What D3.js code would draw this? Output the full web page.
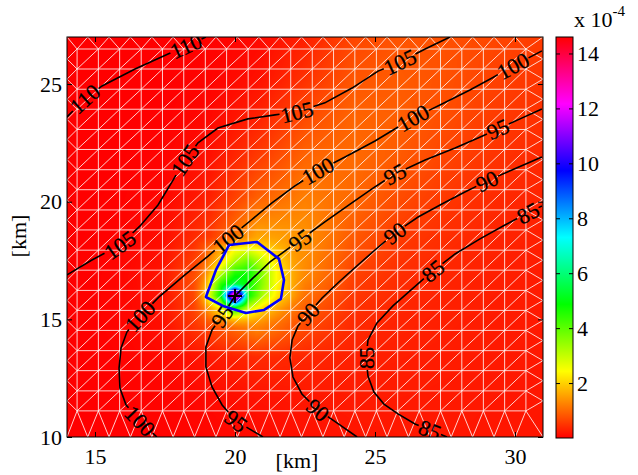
<!DOCTYPE html>
<html><head><meta charset="utf-8">
<script src="https://cdn.jsdelivr.net/npm/d3@7"></script>
<style>
body{margin:0;background:#fff}
svg text{font-family:"Liberation Serif","Times New Roman",serif;}
</style>
</head><body>
<svg id="c" width="638" height="475"></svg>
<script>
// ---------- data (km, values x 1e-4) ----------
const xDomain = [14, 31];
const yDomain = [10, 27];
const xTicks = [15, 20, 25, 30];
const yTicks = [10, 15, 20, 25];
const cbDomain = [0, 14.6];
const cbTicks = [2, 4, 6, 8, 10, 12, 14];

// background field (rows: ascending y)
const fieldX = [14, 15.7, 17.4, 19.1, 20.8, 22.5, 24.2, 25.9, 27.6, 29.3, 31];
const fieldY = [10, 11.7, 13.4, 15.1, 16.8, 18.5, 20.2, 21.9, 23.6, 25.3, 27];
const fieldV = [
  [0.00, 0.00, 0.02, 0.05, 0.10, 0.15, 0.20, 0.22, 0.22, 0.21, 0.20],
  [0.00, 0.01, 0.04, 0.09, 0.17, 0.22, 0.25, 0.25, 0.24, 0.22, 0.21],
  [0.00, 0.02, 0.07, 0.22, 0.40, 0.36, 0.30, 0.28, 0.26, 0.24, 0.22],
  [0.00, 0.03, 0.15, 0.80, 1.60, 0.80, 0.42, 0.33, 0.29, 0.26, 0.24],
  [0.00, 0.03, 0.20, 1.00, 2.20, 1.30, 0.62, 0.42, 0.34, 0.29, 0.26],
  [0.00, 0.02, 0.12, 0.55, 1.60, 1.40, 0.85, 0.55, 0.42, 0.34, 0.29],
  [0.00, 0.01, 0.06, 0.30, 0.90, 1.20, 1.00, 0.72, 0.52, 0.40, 0.33],
  [0.00, 0.00, 0.03, 0.15, 0.55, 0.95, 1.02, 0.85, 0.63, 0.48, 0.38],
  [0.00, 0.00, 0.01, 0.07, 0.30, 0.70, 0.95, 0.90, 0.72, 0.56, 0.45],
  [0.00, 0.00, 0.00, 0.03, 0.15, 0.45, 0.80, 0.86, 0.76, 0.62, 0.50],
  [0.00, 0.00, 0.00, 0.02, 0.08, 0.30, 0.65, 0.80, 0.76, 0.66, 0.56]
];
// fine patch around the source
const peakX = [18.5, 19, 19.5, 20, 20.5, 21, 21.5, 22, 22.5];
const peakY = [14.5, 15, 15.5, 16, 16.5, 17, 17.5, 18, 18.5];
const peakV = [
  [0.4, 0.6, 0.8, 1.0, 1.0, 0.9, 0.8, 0.7, 0.6],
  [0.6, 0.9, 1.4, 1.9, 1.8, 1.5, 1.2, 0.95, 0.75],
  [0.9, 1.4, 2.5, 5.0, 3.0, 2.1, 1.6, 1.2, 0.9],
  [1.2, 2.3, 5.0, 14.6, 4.8, 3.2, 2.2, 1.6, 1.2],
  [1.0, 1.8, 4.5, 5.5, 4.8, 3.5, 2.4, 1.7, 1.3],
  [0.8, 1.4, 3.0, 4.5, 4.8, 3.5, 2.4, 1.7, 1.3],
  [0.7, 1.1, 2.0, 3.2, 3.8, 2.9, 2.1, 1.6, 1.3],
  [0.6, 0.9, 1.6, 2.4, 2.6, 2.2, 1.8, 1.5, 1.25],
  [0.5, 0.75, 1.2, 1.7, 1.85, 1.75, 1.6, 1.4, 1.2]
];

// black contour lines (km) and label vertex indices
const levels = [110, 105, 100, 95, 90, 85];
const line110 = [[14,23.6],[14.64,24.37],[15.25,24.92],[16.43,25.64],[17.61,26.28],[18.25,26.62],[18.96,27.0]];
const line105 = [[14,16.89],[14.89,17.52],[15.89,18.16],[16.61,18.97],[17.25,19.86],[17.75,20.84],[18.21,21.77],[18.68,22.5],[19.39,23.13],[20.46,23.52],[21.43,23.69],[22.21,23.81],[23.21,24.2],[24.18,24.83],[25.11,25.55],[25.89,25.94],[26.79,26.49],[27.68,27.0]];
const line100 = [[17.21,10.0],[16.61,10.68],[16.11,11.36],[15.89,12.08],[15.86,12.93],[15.93,13.78],[16.14,14.46],[16.61,15.14],[17.32,15.99],[18.21,16.89],[19.04,17.69],[19.75,18.42],[20.54,19.18],[21.32,19.95],[22.14,20.67],[22.96,21.31],[23.93,21.9],[25.0,22.58],[26.36,23.56],[27.32,24.11],[28.39,24.75],[29.18,25.26],[29.93,25.77],[30.96,26.41]];
const line95 = [[21.0,10.0],[20.04,10.68],[19.54,11.36],[19.18,12.13],[18.96,12.98],[18.96,13.83],[19.18,14.55],[19.54,15.14],[20.0,15.99],[20.61,16.72],[21.25,17.44],[22.32,18.37],[23.21,19.14],[24.11,19.9],[24.93,20.58],[25.71,21.18],[26.79,21.77],[27.86,22.28],[28.68,22.71],[29.39,23.09],[30.18,23.52],[30.96,23.94]];
const line90 = [[24.36,10.0],[23.64,10.6],[22.96,11.15],[22.39,11.83],[22.07,12.55],[21.96,13.36],[22.04,14.12],[22.25,14.72],[22.61,15.23],[23.11,15.91],[23.75,16.63],[24.39,17.31],[25.04,17.99],[25.71,18.67],[26.54,19.35],[27.39,19.9],[28.21,20.41],[29.0,20.88],[29.89,21.35],[30.96,21.9]];
const line85 = [[27.57,10.0],[26.96,10.3],[26.43,10.55],[25.82,10.98],[25.32,11.4],[24.96,11.91],[24.75,12.59],[24.68,13.36],[24.75,14.12],[25.07,14.85],[25.64,15.57],[26.36,16.33],[27.07,17.06],[27.86,17.78],[28.75,18.42],[29.64,19.01],[30.46,19.52],[30.96,19.82]];
const contourLines = [line110, line105, line100, line95, line90, line85];
const labelAt = [[1,5],[2,6,11,15],[1,7,11,15,18,22],[1,7,11,15,19],[2,8,13,17],[1,7,12,16]];

// blue iso-line of the field and source point
const blueLine = [[19.79,18.16],[20.79,18.29],[21.57,17.57],[21.75,16.67],[21.64,15.87],[21.04,15.4],[20.39,15.27],[19.57,15.57],[18.96,15.95],[19.32,17.1]];
const source = [20.0, 15.99];

// triangular mesh grid lines (km)
const meshX = [14.36,15.12,15.88,16.65,17.41,18.17,18.94,19.70,20.47,21.23,21.99,22.76,23.52,24.28,25.05,25.81,26.58,27.34,28.10,28.87,29.63,30.39];
const meshY = [11.11,11.96,12.82,13.67,14.53,15.38,16.23,17.09,17.94,18.80,19.65,20.51,21.36,22.22,23.07,23.93,24.78,25.64,26.49];

// ---------- drawing ----------
const svg = d3.select("#c");
const x = d3.scaleLinear().domain(xDomain).range([67, 543]);
const y = d3.scaleLinear().domain(yDomain).range([437, 37]);
const hsvMap = t => d3.hsl(t * 360, 1, 0.5);
const color = d3.scaleSequential(hsvMap).domain(cbDomain).clamp(true);

function bilinear(gx, gy, gv, px, py) {
  let i = Math.max(0, Math.min(gx.length - 2, d3.bisectRight(gx, px) - 1));
  let j = Math.max(0, Math.min(gy.length - 2, d3.bisectRight(gy, py) - 1));
  let tx = Math.max(0, Math.min(1, (px - gx[i]) / (gx[i + 1] - gx[i])));
  let ty = Math.max(0, Math.min(1, (py - gy[j]) / (gy[j + 1] - gy[j])));
  return gv[j][i] * (1 - tx) * (1 - ty) + gv[j][i + 1] * tx * (1 - ty) +
         gv[j + 1][i] * (1 - tx) * ty + gv[j + 1][i + 1] * tx * ty;
}
function fieldAt(px, py) {
  const bg = bilinear(fieldX, fieldY, fieldV, px, py);
  const x0 = peakX[0], x1 = peakX[peakX.length - 1], y0 = peakY[0], y1 = peakY[peakY.length - 1];
  if (px < x0 || px > x1 || py < y0 || py > y1) return bg;
  const dEdge = Math.min(px - x0, x1 - px, py - y0, y1 - py);
  const w = Math.min(1, dEdge / 0.5);
  const pk = bilinear(peakX, peakY, peakV, px, py);
  return bg * (1 - w) + pk * w;
}

const LUT = d3.range(1024).map(k => d3.rgb(color(cbDomain[0] + (cbDomain[1] - cbDomain[0]) * k / 1023)));

const px0 = x.range()[0], px1 = x.range()[1], py0 = y.range()[1], py1 = y.range()[0];
const cw = Math.round(px1 - px0), ch = Math.round(py1 - py0);
const cv = document.createElement("canvas");
cv.width = cw; cv.height = ch;
const ctx = cv.getContext("2d");
const img = ctx.createImageData(cw, ch);
for (let j = 0; j < ch; j++) {
  const yk = y.invert(py0 + j + 0.5);
  for (let i = 0; i < cw; i++) {
    const xk = x.invert(px0 + i + 0.5);
    const v = fieldAt(xk, yk);
    let k = Math.round((v - cbDomain[0]) / (cbDomain[1] - cbDomain[0]) * 1023);
    k = Math.max(0, Math.min(1023, k));
    const c = LUT[k], o = (j * cw + i) * 4;
    img.data[o] = c.r; img.data[o + 1] = c.g; img.data[o + 2] = c.b; img.data[o + 3] = 255;
  }
}
ctx.putImageData(img, 0, 0);

const defs = svg.append("defs");
defs.append("clipPath").attr("id", "clip").append("rect")
  .attr("x", px0).attr("y", py0).attr("width", px1 - px0).attr("height", py1 - py0);

svg.append("image").attr("x", px0).attr("y", py0).attr("width", cw).attr("height", ch)
  .attr("preserveAspectRatio", "none").attr("href", cv.toDataURL());

// mesh
const gMesh = svg.append("g").attr("clip-path", "url(#clip)")
  .attr("stroke", "#fff").attr("stroke-opacity", 0.8).attr("stroke-width", 1).attr("fill", "none");
const segs = [];
const nx = meshX.length, ny = meshY.length;
meshX.forEach(mx => segs.push([[mx, meshY[0]], [mx, meshY[ny - 1]]]));
meshY.forEach(my => segs.push([[meshX[0], my], [meshX[nx - 1], my]]));
for (let i = 0; i < nx - 1; i++) for (let j = 0; j < ny - 1; j++)
  segs.push([[meshX[i], meshY[j]], [meshX[i + 1], meshY[j + 1]]]);
const ex0 = xDomain[0], ex1 = xDomain[1], ey0 = yDomain[0], ey1 = yDomain[1];
for (let j = 0; j < ny - 1; j++) {
  const m = (meshY[j] + meshY[j + 1]) / 2;
  segs.push([[ex0, m], [meshX[0], meshY[j]]], [[ex0, m], [meshX[0], meshY[j + 1]]]);
  segs.push([[ex1, m], [meshX[nx - 1], meshY[j]]], [[ex1, m], [meshX[nx - 1], meshY[j + 1]]]);
}
for (let i = 0; i < nx - 1; i++) {
  const m = (meshX[i] + meshX[i + 1]) / 2;
  segs.push([[m, ey0], [meshX[i], meshY[0]]], [[m, ey0], [meshX[i + 1], meshY[0]]]);
  segs.push([[m, ey1], [meshX[i], meshY[ny - 1]]], [[m, ey1], [meshX[i + 1], meshY[ny - 1]]]);
}
segs.push([[ex0, ey0], [meshX[0], meshY[0]]], [[ex1, ey1], [meshX[nx - 1], meshY[ny - 1]]]);
segs.push([[ex0, ey1], [meshX[0], meshY[ny - 1]]], [[ex1, ey0], [meshX[nx - 1], meshY[0]]]);
gMesh.selectAll("line").data(segs).join("line")
  .attr("x1", d => x(d[0][0])).attr("y1", d => y(d[0][1]))
  .attr("x2", d => x(d[1][0])).attr("y2", d => y(d[1][1]));

// contour lines with inline labels
const gC = svg.append("g").attr("clip-path", "url(#clip)");
const lineGen = d3.line().x(d => x(d[0])).y(d => y(d[1]));
contourLines.forEach((pts, li) => {
  const P = pts.map(d => [x(d[0]), y(d[1])]);
  const cum = [0];
  for (let k = 1; k < P.length; k++) cum.push(cum[k - 1] + Math.hypot(P[k][0] - P[k - 1][0], P[k][1] - P[k - 1][1]));
  const L = cum[cum.length - 1];
  const gaps = [];
  labelAt[li].forEach(idx => {
    const a = P[Math.max(0, idx - 1)], b = P[Math.min(P.length - 1, idx + 1)];
    let ang = Math.atan2(b[1] - a[1], b[0] - a[0]) * 180 / Math.PI;
    if (ang > 90) ang -= 180; if (ang < -90) ang += 180;
    const t = gC.append("text").attr("transform", `translate(${P[idx][0]},${P[idx][1]}) rotate(${ang})`)
      .attr("text-anchor", "middle").attr("dy", "0.35em").attr("font-size", 22).attr("fill", "#000")
      .attr("stroke", "#000").attr("stroke-width", 0.3)
      .text(levels[li]);
    const w = t.node().getComputedTextLength();
    gaps.push([cum[idx] - w / 2 - 1, cum[idx] + w / 2 + 1]);
  });
  gaps.sort((p, q) => p[0] - q[0]);
  const dash = [];
  let pos = 0;
  gaps.forEach(([g0, g1]) => {
    g0 = Math.max(pos, g0); g1 = Math.min(L, g1);
    dash.push(Math.max(0, g0 - pos), Math.max(0, g1 - g0));
    pos = g1;
  });
  dash.push(Math.max(0, L - pos), L + 10);
  gC.insert("path", "text").attr("d", lineGen(pts)).attr("fill", "none").attr("stroke", "#000")
    .attr("stroke-width", 1.6).attr("stroke-dasharray", dash.join(","));
});

// blue iso-line
gC.append("path").attr("d", d3.line().x(d => x(d[0])).y(d => y(d[1])).curve(d3.curveLinearClosed)(blueLine))
  .attr("fill", "none").attr("stroke", "#0000ff").attr("stroke-width", 2.6).attr("stroke-linejoin", "round");

// source marker
const sx = x(source[0]), sy = y(source[1]);
gC.append("path").attr("d", `M${sx - 7},${sy}H${sx + 7}M${sx},${sy - 7}V${sy + 7}`)
  .attr("stroke", "#000").attr("stroke-width", 2);

// frame and axes
svg.append("rect").attr("x", px0).attr("y", py0).attr("width", px1 - px0).attr("height", py1 - py0)
  .attr("fill", "none").attr("stroke", "#000").attr("stroke-width", 1);
const fs = 22;
svg.append("g").attr("transform", `translate(0,${py1})`)
  .call(d3.axisBottom(x).tickValues(xTicks).tickSize(-5).tickPadding(11));
svg.append("g").attr("transform", `translate(${px0},0)`)
  .call(d3.axisLeft(y).tickValues(yTicks).tickSize(-5).tickPadding(5));
svg.append("g").attr("transform", `translate(0,${py0})`)
  .call(d3.axisTop(x).tickValues(xTicks).tickSize(-5).tickFormat(""));
svg.append("g").attr("transform", `translate(${px1},0)`)
  .call(d3.axisRight(y).tickValues(yTicks).tickSize(-5).tickFormat(""));
svg.selectAll(".domain").remove();
svg.selectAll(".tick line").attr("stroke", "#000");
svg.selectAll(".tick text").attr("font-size", fs).attr("fill", "#000")
  .style("font-family", '"Liberation Serif","Times New Roman",serif');

svg.append("text").attr("x", 297).attr("y", 468).attr("text-anchor", "middle")
  .attr("font-size", fs).text("[km]");
svg.append("text").attr("transform", "translate(26,236) rotate(-90)").attr("text-anchor", "middle")
  .attr("font-size", fs).text("[km]");

// colorbar
const cbx0 = 556, cbx1 = 573;
const cy = d3.scaleLinear().domain(cbDomain).range([438, 37]);
const grad = defs.append("linearGradient").attr("id", "cbg").attr("x1", 0).attr("y1", 1).attr("x2", 0).attr("y2", 0);
d3.range(0, 1.0001, 1 / 60).forEach(t => grad.append("stop").attr("offset", t)
  .attr("stop-color", color(cbDomain[0] + t * (cbDomain[1] - cbDomain[0]))));
svg.append("rect").attr("x", cbx0).attr("y", cy(cbDomain[1])).attr("width", cbx1 - cbx0)
  .attr("height", cy(cbDomain[0]) - cy(cbDomain[1])).attr("fill", "url(#cbg)")
  .attr("stroke", "#000").attr("stroke-width", 1);
const cbAx = svg.append("g").attr("transform", `translate(${cbx1},0)`)
  .call(d3.axisRight(cy).tickValues(cbTicks).tickSize(-4).tickPadding(4));
svg.append("g").attr("transform", `translate(${cbx0},0)`)
  .call(d3.axisLeft(cy).tickValues(cbTicks).tickSize(-4).tickFormat(""));
svg.selectAll(".domain").remove();
svg.selectAll(".tick line").attr("stroke", "#000");
cbAx.selectAll("text").attr("font-size", fs).attr("fill", "#000")
  .style("font-family", '"Liberation Serif","Times New Roman",serif');

const ttl = svg.append("text").attr("x", 574).attr("y", 27).attr("font-size", fs);
ttl.append("tspan").text("x 10");
ttl.append("tspan").attr("font-size", 15).attr("dy", -11).text("-4");
</script>
</body></html>
